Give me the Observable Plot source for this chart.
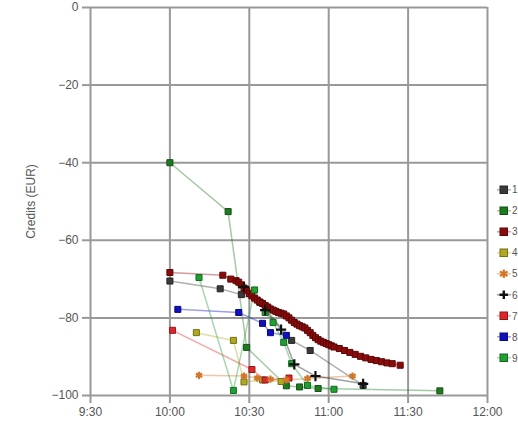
<!DOCTYPE html>
<html>
<head>
<meta charset="utf-8">
<script src="https://cdn.jsdelivr.net/npm/d3@7"></script>
<script src="https://cdn.jsdelivr.net/npm/@observablehq/plot@0.6"></script>
<style>
  html, body { margin: 0; padding: 0; background: #fff; width: 518px; height: 424px; overflow: hidden; }
  #wrap { position: relative; width: 518px; height: 424px; }
  #legend { position: absolute; left: 497px; top: 179px; font: 10px "Liberation Sans", Arial, sans-serif; color: #555; white-space: nowrap; }
  .li { height: 21.1px; display: flex; align-items: center; }
  .li svg { flex: none; }
</style>
</head>
<body>
<div id="wrap"><div id="chart"></div><div id="legend"></div></div>
<script>
// ---- data ----
const seriesNames = ["1","2","3","4","5","6","7","8","9"];
const seriesColors = ["#3a3a3a","#1e7a1e","#8b0a0a","#b0aa22","#d2762a","#111111","#e0262a","#1010c0","#20a030"];
const seriesSymbols = ["square","square","square","square","asterisk","plus","square","square","square"];

const s1Times = ["10:00","10:19","10:27","10:34","10:46","10:53","11:13"];
const s1Vals  = [-70.5,-72.5,-74,-76,-85.8,-88.4,-97.4];

const s2Times = ["10:00","10:22","10:29","10:44","10:49","10:56","11:42"];
const s2Vals  = [-40,-52.6,-87.6,-97.5,-97.8,-98.2,-98.8];

const s3Times = ["10:00","10:20","10:23","10:25","10:26","10:27","10:28","10:29","10:30","10:31","10:32","10:33","10:34","10:35","10:36","10:37","10:38","10:39","10:40","10:41","10:42","10:43","10:44","10:45","10:46","10:47","10:48","10:49","10:50","10:51","10:52","10:53","10:54","10:55","10:56","10:57","10:58","10:59","11:00","11:01","11:02","11:04","11:06","11:08","11:10","11:12","11:14","11:16","11:18","11:20","11:22","11:24","11:27"];
const s3Vals  = [-68.3,-69,-70,-70.4,-70.8,-71.5,-72.3,-73,-73.7,-74.3,-74.9,-75.4,-75.9,-76.3,-76.8,-77.2,-77.7,-78,-78.3,-78.6,-78.8,-79,-79.5,-80,-80.6,-81.2,-81.6,-82,-82.3,-82.6,-83.2,-83.8,-84.5,-85.1,-85.6,-86,-86.3,-86.6,-86.9,-87.2,-87.5,-87.9,-88.4,-88.9,-89.4,-89.9,-90.3,-90.7,-91,-91.3,-91.6,-91.8,-92.2];

const s4Times = ["10:10","10:24","10:28","10:35","10:42"];
const s4Vals  = [-83.8,-85.8,-96.5,-96,-96.4];

const s5Times = ["10:11","10:28","10:33","10:38","10:44","10:52","11:09"];
const s5Vals  = [-94.8,-95,-95.5,-95.8,-96,-95.6,-95];

const s6Times = ["10:28","10:36","10:42","10:47","10:55","11:13"];
const s6Vals  = [-72,-78,-83,-92,-95,-97];

const s7Times = ["10:01","10:31","10:36","10:45"];
const s7Vals  = [-83.2,-93.3,-96,-95.5];

const s8Times = ["10:03","10:26","10:35","10:38","10:44"];
const s8Vals  = [-77.8,-78.6,-81.4,-83.8,-84.5];

const s9Times = ["10:11","10:24","10:32","10:36","10:39","10:43","10:46","10:52","11:02"];
const s9Vals  = [-69.6,-98.7,-72.8,-78.6,-81.2,-86.3,-91.8,-97.4,-98.4];

const xTicks = ["9:30","10:00","10:30","11:00","11:30","12:00"];
const yTicks = [0,-20,-40,-60,-80,-100];
const yLabel = "Credits (EUR)";

// ---- build table ----
const toMin = s => { const [h,m] = s.split(":").map(Number); return h*60+m; };
const fmt = m => `${Math.floor(m/60)}:${String(m%60).padStart(2,"0")}`;
const darker = c => d3.color(c).darker(1.2).formatHex();
const allTimes = [s1Times,s2Times,s3Times,s4Times,s5Times,s6Times,s7Times,s8Times,s9Times];
const allVals  = [s1Vals,s2Vals,s3Vals,s4Vals,s5Vals,s6Vals,s7Vals,s8Vals,s9Vals];
const rows = [];
allTimes.forEach((ts, i) => ts.forEach((t, j) => rows.push({
  series: seriesNames[i], t: toMin(t), v: allVals[i][j], sym: seriesSymbols[i],
  col: seriesColors[i], dark: darker(seriesColors[i])
})));
const squares = rows.filter(d => d.sym === "square");
const strokes = rows.filter(d => d.sym !== "square");

const chart = Plot.plot({
  width: 518, height: 424,
  marginLeft: 90, marginRight: 31, marginTop: 7, marginBottom: 29,
  style: {fontFamily: "'Liberation Sans', Arial, sans-serif", fontSize: "12px", color: "#555", background: "#fff"},
  x: {domain: [toMin(xTicks[0]), toMin(xTicks[xTicks.length-1])]},
  y: {domain: [-100, 0]},
  marks: [
    Plot.gridX(xTicks.map(toMin), {stroke: "#999", strokeOpacity: 1, strokeWidth: 2}),
    Plot.gridY(yTicks, {stroke: "#999", strokeOpacity: 1, strokeWidth: 2}),
    Plot.axisX({ticks: xTicks.map(toMin), tickFormat: fmt, tickSize: 8, tickPadding: 4, stroke: "#999", strokeWidth: 2, fill: "#555", label: null}),
    Plot.axisY({ticks: yTicks, tickSize: 8, tickPadding: 4, stroke: "#999", strokeWidth: 2, fill: "#555", label: yLabel, labelAnchor: "center", labelArrow: "none", labelOffset: 64}),
    Plot.line(rows, {x: "t", y: "v", z: "series", stroke: "col", strokeOpacity: 0.4, strokeWidth: 1.5}),
    Plot.dot(squares, {x: "t", y: "v", symbol: "square", r: 3.4, fill: "col", stroke: "dark", strokeWidth: 1}),
    Plot.dot(strokes, {x: "t", y: "v", symbol: "sym", r: 3.4, stroke: "col", strokeWidth: 2.2})
  ]
});
document.getElementById("chart").appendChild(chart);

// ---- legend ----
const lg = document.getElementById("legend");
seriesNames.forEach((n, i) => {
  const div = document.createElement("div");
  div.className = "li";
  const sym = seriesSymbols[i];
  const c = seriesColors[i];
  let marker;
  if (sym === "square") marker = `<rect x="3" y="4" width="7.5" height="7.5" fill="${c}" stroke="${darker(c)}"/>`;
  else if (sym === "plus") marker = `<path d="M6.8 3.5V12M2.5 7.8H11" stroke="${c}" stroke-width="2.4"/>`;
  else marker = `<path d="M6.8 3.5V12M3 5.5L10.5 10M3 10L10.5 5.5" stroke="${c}" stroke-width="2.2"/>`;
  div.innerHTML = `<svg width="14" height="16"><line x1="0" x2="14" y1="7.8" y2="7.8" stroke="${c}" stroke-opacity="0.4" stroke-width="1.5"/>${marker}</svg><span style="margin-left:1px">${n}</span>`;
  lg.appendChild(div);
});
</script>
</body>
</html>
